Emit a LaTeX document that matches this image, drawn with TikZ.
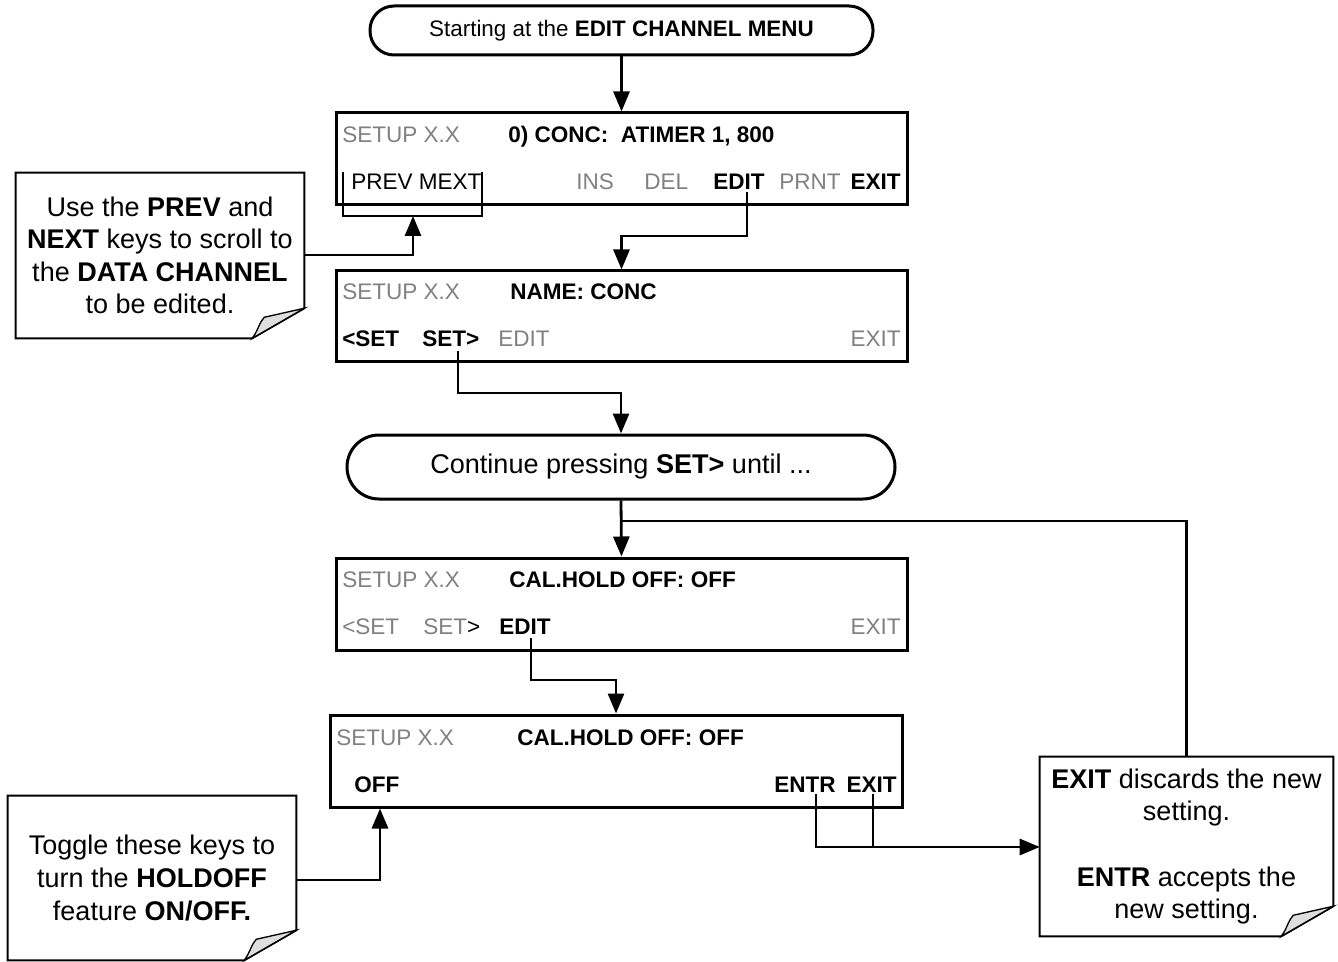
\documentclass[tikz,border=0pt]{standalone}
\usepackage{fontspec}
\setmainfont{Liberation Sans}
\usetikzlibrary{arrows.meta,fit,calc}
\definecolor{keygray}{RGB}{128,128,128}
\definecolor{foldgray}{RGB}{222,222,222}
\newcommand\lcdfont{\fontsize{16.9}{20}\selectfont}
\newcommand\notefont{\fontsize{20.25}{24.4}\selectfont}
\newcommand\topfont{\fontsize{16.8}{20}\selectfont}
\newcommand\contfont{\fontsize{20.3}{24}\selectfont}
\newcommand\drawnote[1]{%
  \draw[noteline] (#1.north west) -- (#1.north east) -- ($(#1.south east)+(0,-30)$)
    -- ($(#1.south east)+(-52,0)$) -- (#1.south west) -- cycle;
  \draw[foldline] ($(#1.south east)+(-52,0)$) .. controls ($(#1.south east)+(-46,-8)$) and ($(#1.south east)+(-45,-16)$) .. ($(#1.south east)+(-40,-21)$)
    -- ($(#1.south east)+(0,-30)$) -- cycle;}
\begin{document}
\begin{tikzpicture}[x=0.75pt,y=-0.75pt,
  lcd/.style={draw, line width=2.25pt, inner sep=0pt},
  term/.style={draw, line width=2.25pt, inner sep=0pt},
  key/.style={anchor=base west, inner sep=0pt, font=\lcdfont},
  keyr/.style={anchor=base east, inner sep=0pt, font=\lcdfont},
  keydim/.style={text=keygray},
  conn/.style={line width=2.1pt},
  arr/.style={line width=2.1pt,-{Triangle[length=15pt,width=12pt]}},
  notebox/.style={inner sep=0pt},
  notetext/.style={align=center, inner sep=0pt, font=\notefont},
  noteline/.style={line width=1.5pt, line join=miter},
  foldline/.style={line width=1pt, fill=foldgray}
]
\useasboundingbox (0,0) rectangle (1338,962);

% terminals
\node[term, rounded corners=18pt, fit={(370,6) (873,55)}] (t1) {};
\node[inner sep=0pt, font=\topfont] (t1t) at (t1.center) {Starting at the \textbf{EDIT CHANNEL MENU}};
\node[term, rounded corners=24pt, fit={(347,435) (895,499)}] (t2) {};
\node[inner sep=0pt, font=\contfont] (t2t) at (t2.center) {Continue pressing \textbf{SET>} until ...};

% LCD boxes
\node[lcd, fit={(336,113) (907,205)}] (b1) {};
\node[lcd, fit={(336,271) (907,362)}] (b2) {};
\node[lcd, fit={(336,558) (907,650)}] (b3) {};
\node[lcd, fit={(330,715) (902,807)}] (b4) {};

% box 1 texts
\node[key, keydim] (b1s) at (342,143) {SETUP X.X};
\node[key] (b1t) at (508,143) {\textbf{0) CONC:\ \ ATIMER 1, 800}};
\node[key] (pm1) at (351,190) {PREV MEXT};
\node[key, keydim] (ins1) at (576,190) {INS};
\node[key, keydim] (del1) at (644,190) {DEL};
\node[key] (e1) at (713,190) {\textbf{EDIT}};
\node[key, keydim] (pr1) at (779,190) {PRNT};
\node[keyr] (x1) at (901,190) {\textbf{EXIT}};

% box 2 texts
\node[key, keydim] (b2s) at (342,300) {SETUP X.X};
\node[key] (b2t) at (510,300) {\textbf{NAME: CONC}};
\node[key] (ls2) at (342,347) {\textbf{<SET}};
\node[key] (s2) at (422,347) {\textbf{SET>}};
\node[key, keydim] (e2) at (498,347) {EDIT};
\node[keyr, keydim] (x2) at (901,347) {EXIT};

% box 3 texts
\node[key, keydim] (b3s) at (342,587) {SETUP X.X};
\node[key] (b3t) at (509,587) {\textbf{CAL.HOLD OFF: OFF}};
\node[key, keydim] (ls3) at (342,634) {<SET};
\node[key] (s3) at (423,634) {\textcolor{keygray}{SET}>};
\node[key] (e3) at (499,634) {\textbf{EDIT}};
\node[keyr, keydim] (x3) at (901,634) {EXIT};

% box 4 texts
\node[key, keydim] (b4s) at (336,745) {SETUP X.X};
\node[key] (b4t) at (517,745) {\textbf{CAL.HOLD OFF: OFF}};
\node[key] (off4) at (354,792) {\textbf{OFF}};
\node[key] (en4) at (774,792) {\textbf{ENTR}};
\node[keyr] (ex4) at (897,792) {\textbf{EXIT}};

% notes
\node[notebox, fit={(16,173) (304,338)}] (n1) {};
\drawnote{n1}
\node[notetext] (n1t) at (n1.center) {Use the \textbf{PREV} and\\\textbf{NEXT} keys to scroll to\\the \textbf{DATA CHANNEL}\\to be edited.};

\node[notebox, fit={(8,796) (296,960)}] (n2) {};
\drawnote{n2}
\node[notetext] (n2t) at (n2.center) {Toggle these keys to\\turn the \textbf{HOLDOFF}\\feature \textbf{ON/OFF.}};

\node[notebox, fit={(1040,757) (1333,936)}] (n3) {};
\drawnote{n3}
\node[notetext] (n3t) at (n3.center) {\textbf{EXIT} discards the new\\setting.\\[24.4pt]\textbf{ENTR} accepts the\\new setting.};

% connectors
\draw[arr] (t1.south) -- (b1.north);

\coordinate (brL) at (343,172);
\coordinate (brR) at (482,172);
\coordinate (brM) at (413,216);
\draw[conn] (brL) -- (brL |- brM) -- (brR |- brM) -- (brR);
\coordinate (j1) at (413,255);
\draw[arr] (n1.east |- j1) -- (j1) -- (brM);

\coordinate (j2) at (747,236);
\draw[arr] ([yshift=-1.5pt]e1.south -| j2) -- (j2) -- (j2 -| b2.north) -- (b2.north);

\coordinate (j3) at (458,393);
\draw[arr] ([yshift=-3pt]s2.south -| j3) -- (j3) -- (j3 -| t2.north) -- (t2.north);

\draw[arr] (t2.south) -- (b3.north);
\coordinate (j4) at (621,521);
\draw[conn] (j4) -| (n3.north);

\coordinate (j5) at (531,680);
\draw[arr] ([yshift=-3pt]e3.south -| j5) -- (j5) -- (j5 -| b4.north) -- (b4.north);

\coordinate (j6) at (380,880);
\draw[arr] (n2.east |- j6) -- (j6) -- (j6 |- b4.south);

\coordinate (j7) at (816,847);
\coordinate (j8) at (873,847);
\draw[conn] ([yshift=-1.5pt]en4.south -| j7) -- (j7) -- (j8);
\draw[conn] ([yshift=-1.5pt]ex4.south -| j8) -- (j8);
\draw[arr] (j8) -- (j8 -| n3.west);
\end{tikzpicture}
\end{document}
